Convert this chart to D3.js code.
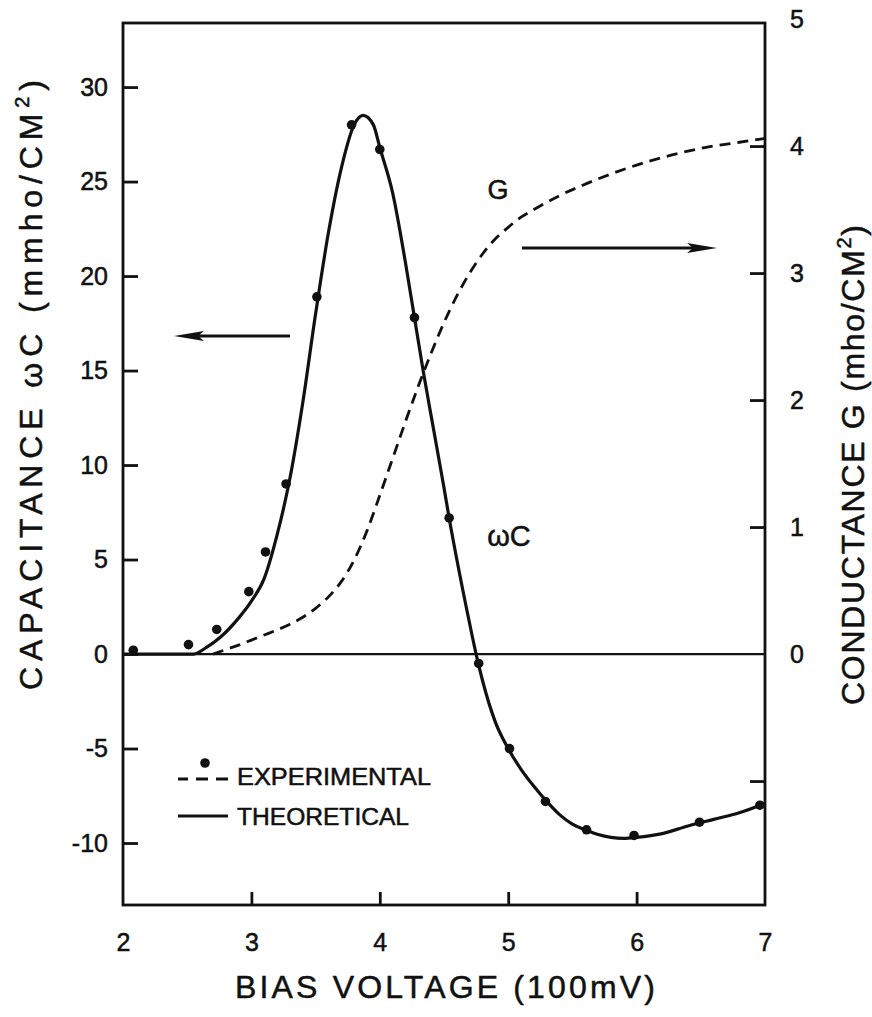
<!DOCTYPE html>
<html>
<head>
<meta charset="utf-8">
<script src="https://cdn.jsdelivr.net/npm/d3@7"></script>
<style>
  html, body { margin: 0; padding: 0; background: #fff; }
  svg { display: block; }
  text { font-family: "Liberation Sans", Arial, sans-serif; fill: #111; stroke: #111; stroke-width: 0.5px; }
</style>
</head>
<body>
<svg id="chart" width="872" height="1017"></svg>
<script>
// ---- data ----
const xTicks = [2, 3, 4, 5, 6, 7];
const yLeftTicks = [-10, -5, 0, 5, 10, 15, 20, 25, 30];
const yRightTicks = [-1, 0, 1, 2, 3, 4, 5];
const yRightLabels = [0, 1, 2, 3, 4, 5];

// experimental points, capacitance wC (mmho/cm^2)
const expX = [2.08, 2.51, 2.73, 2.98, 3.11, 3.27, 3.51, 3.78, 4.00, 4.27, 4.54, 4.77, 5.01, 5.29, 5.61, 5.98, 6.49, 6.96];
const expWC = [0.2, 0.5, 1.3, 3.3, 5.4, 9.0, 18.9, 28.0, 26.7, 17.8, 7.2, -0.5, -5.0, -7.8, -9.3, -9.6, -8.9, -8.0];

// theoretical curve, capacitance wC
const thX = [2.0, 2.3, 2.55, 2.65, 2.76, 2.9, 3.0, 3.1, 3.2, 3.3, 3.4, 3.5, 3.6, 3.7, 3.8, 3.87, 3.95, 4.0, 4.1, 4.2, 4.27, 4.34, 4.4, 4.5, 4.54, 4.6, 4.7, 4.75, 4.8, 4.9, 5.0, 5.1, 5.2, 5.3, 5.4, 5.5, 5.6, 5.7, 5.8, 5.9, 6.0, 6.2, 6.4, 6.6, 6.8, 7.0];
const thWC = [0, 0, 0, 0.35, 0.9, 1.9, 2.8, 4.0, 6.3, 9.3, 13.3, 18.0, 22.3, 25.7, 28.0, 28.5, 28.0, 26.8, 24.4, 20.7, 17.8, 14.9, 12.6, 8.8, 7.2, 5.0, 1.6, 0, -1.4, -3.6, -5.0, -6.1, -7.0, -7.8, -8.5, -9.0, -9.3, -9.55, -9.7, -9.75, -9.7, -9.5, -9.1, -8.75, -8.4, -7.9];

// conductance G (mho/cm^2), dashed
const gX = [2.7, 2.8, 2.9, 3.0, 3.1, 3.2, 3.3, 3.4, 3.5, 3.6, 3.7, 3.8, 3.9, 4.0, 4.1, 4.2, 4.3, 4.4, 4.5, 4.6, 4.7, 4.8, 4.9, 5.0, 5.1, 5.2, 5.4, 5.6, 5.8, 6.0, 6.2, 6.4, 6.6, 6.8, 7.0];
const gVal = [0, 0.035, 0.07, 0.11, 0.15, 0.19, 0.235, 0.29, 0.36, 0.45, 0.57, 0.74, 0.97, 1.25, 1.54, 1.83, 2.11, 2.37, 2.61, 2.82, 3.00, 3.15, 3.27, 3.36, 3.44, 3.50, 3.61, 3.70, 3.78, 3.85, 3.91, 3.96, 4.00, 4.03, 4.06];

// ---- layout ----
const L = 123, R = 765, T = 23, B = 905;
const svg = d3.select("#chart");

const x = d3.scaleLinear().domain([2, 7]).range([L, R]);
const y = d3.scaleLinear().domain([-13.28, 33.39]).range([B, T]);
const y2 = d3.scaleLinear().domain([-1.976, 4.969]).range([B, T]);

const ink = "#111";

// frame
svg.append("rect")
  .attr("x", L).attr("y", T).attr("width", R - L).attr("height", B - T)
  .attr("fill", "none").attr("stroke", ink).attr("stroke-width", 2.8);

// zero line
svg.append("line")
  .attr("x1", L).attr("x2", R).attr("y1", y(0)).attr("y2", y(0))
  .attr("stroke", ink).attr("stroke-width", 2.2);

// axes
const fontSize = 25;
const fmt = d => String(d);
const gl = svg.append("g").attr("transform", `translate(${L},0)`)
  .call(d3.axisLeft(y).tickValues(yLeftTicks).tickSizeInner(-15).tickSizeOuter(0).tickPadding(15).tickFormat(fmt));
const gb = svg.append("g").attr("transform", `translate(0,${B})`)
  .call(d3.axisBottom(x).tickValues(xTicks).tickSizeInner(-13).tickSizeOuter(0).tickPadding(28).tickFormat(fmt));
const gr = svg.append("g").attr("transform", `translate(${R},0)`)
  .call(d3.axisRight(y2).tickValues(yRightTicks).tickSizeInner(-15).tickSizeOuter(0).tickPadding(25)
    .tickFormat(d => yRightLabels.includes(d) ? String(d) : ""));

[gl, gb, gr].forEach(g => {
  g.select(".domain").remove();
  g.selectAll(".tick line").attr("stroke", ink).attr("stroke-width", 2.8);
  g.selectAll(".tick text").attr("font-size", fontSize).attr("fill", ink)
    .style("font-family", '"Liberation Sans", Arial, sans-serif');
});
// hide end ticks that coincide with the frame
gb.selectAll(".tick line").filter(d => d === 2 || d === 7).remove();
gr.selectAll(".tick line").filter(d => d === 5 || d === 0).remove();

// curves
const line = d3.line().curve(d3.curveMonotoneX);
svg.append("path")
  .attr("d", line(thX.map((v, i) => [x(v), y(thWC[i])])))
  .attr("fill", "none").attr("stroke", ink).attr("stroke-width", 3.2);

svg.append("path")
  .attr("d", line(gX.map((v, i) => [x(v), y2(gVal[i])])))
  .attr("fill", "none").attr("stroke", ink).attr("stroke-width", 2.8)
  .attr("stroke-dasharray", "11,7");

// experimental dots
svg.append("g").selectAll("circle")
  .data(expX.map((v, i) => [v, expWC[i]]))
  .join("circle")
  .attr("cx", d => x(d[0])).attr("cy", d => y(d[1])).attr("r", 4.8)
  .attr("fill", ink);

// arrows
function arrow(x1, x2, yy) {
  const dir = Math.sign(x2 - x1);
  svg.append("line").attr("x1", x1).attr("x2", x2 - dir * 20).attr("y1", yy).attr("y2", yy)
    .attr("stroke", ink).attr("stroke-width", 2.8);
  svg.append("path")
    .attr("d", `M${x2},${yy} L${x2 - dir * 30},${yy - 5} L${x2 - dir * 24},${yy} L${x2 - dir * 30},${yy + 5} Z`)
    .attr("fill", ink);
}
arrow(290, 174, 336);
arrow(522, 717, 248);

// curve labels
svg.append("text").attr("x", 498).attr("y", 199).attr("text-anchor", "middle")
  .attr("font-size", 27).text("G");
svg.append("text").attr("x", 509).attr("y", 546).attr("text-anchor", "middle")
  .attr("font-size", 29).text("ωC");

// legend
svg.append("circle").attr("cx", 205).attr("cy", 763).attr("r", 4.8).attr("fill", ink);
svg.append("line").attr("x1", 178).attr("x2", 229).attr("y1", 779).attr("y2", 779)
  .attr("stroke", ink).attr("stroke-width", 2.8).attr("stroke-dasharray", "10,8,12,8,12");
svg.append("text").attr("x", 237).attr("y", 785).attr("font-size", 23)
  .attr("textLength", 194).attr("lengthAdjust", "spacingAndGlyphs").text("EXPERIMENTAL");
svg.append("line").attr("x1", 178).attr("x2", 228).attr("y1", 816).attr("y2", 816)
  .attr("stroke", ink).attr("stroke-width", 3);
svg.append("text").attr("x", 237).attr("y", 825).attr("font-size", 23)
  .attr("textLength", 172).attr("lengthAdjust", "spacingAndGlyphs").text("THEORETICAL");

// axis titles
svg.append("text").attr("x", 445).attr("y", 998).attr("text-anchor", "middle")
  .attr("font-size", 32).attr("textLength", 420).attr("lengthAdjust", "spacing")
  .text("BIAS VOLTAGE (100mV)");

const lt = svg.append("text")
  .attr("transform", "translate(42,385) rotate(-90)")
  .attr("text-anchor", "middle").attr("font-size", 32)
  .attr("textLength", 610).attr("lengthAdjust", "spacing");
lt.append("tspan").text("CAPACITANCE ωC (mmho/CM");
lt.append("tspan").attr("font-size", 20).attr("dy", -13).text("2");
lt.append("tspan").attr("dy", 13).text(")");

const rt = svg.append("text")
  .attr("transform", "translate(864,465) rotate(-90)")
  .attr("text-anchor", "middle").attr("font-size", 32)
  .attr("textLength", 480).attr("lengthAdjust", "spacing");
rt.append("tspan").text("CONDUCTANCE G (mho/CM");
rt.append("tspan").attr("font-size", 20).attr("dy", -13).text("2");
rt.append("tspan").attr("dy", 13).text(")");
</script>
</body>
</html>
